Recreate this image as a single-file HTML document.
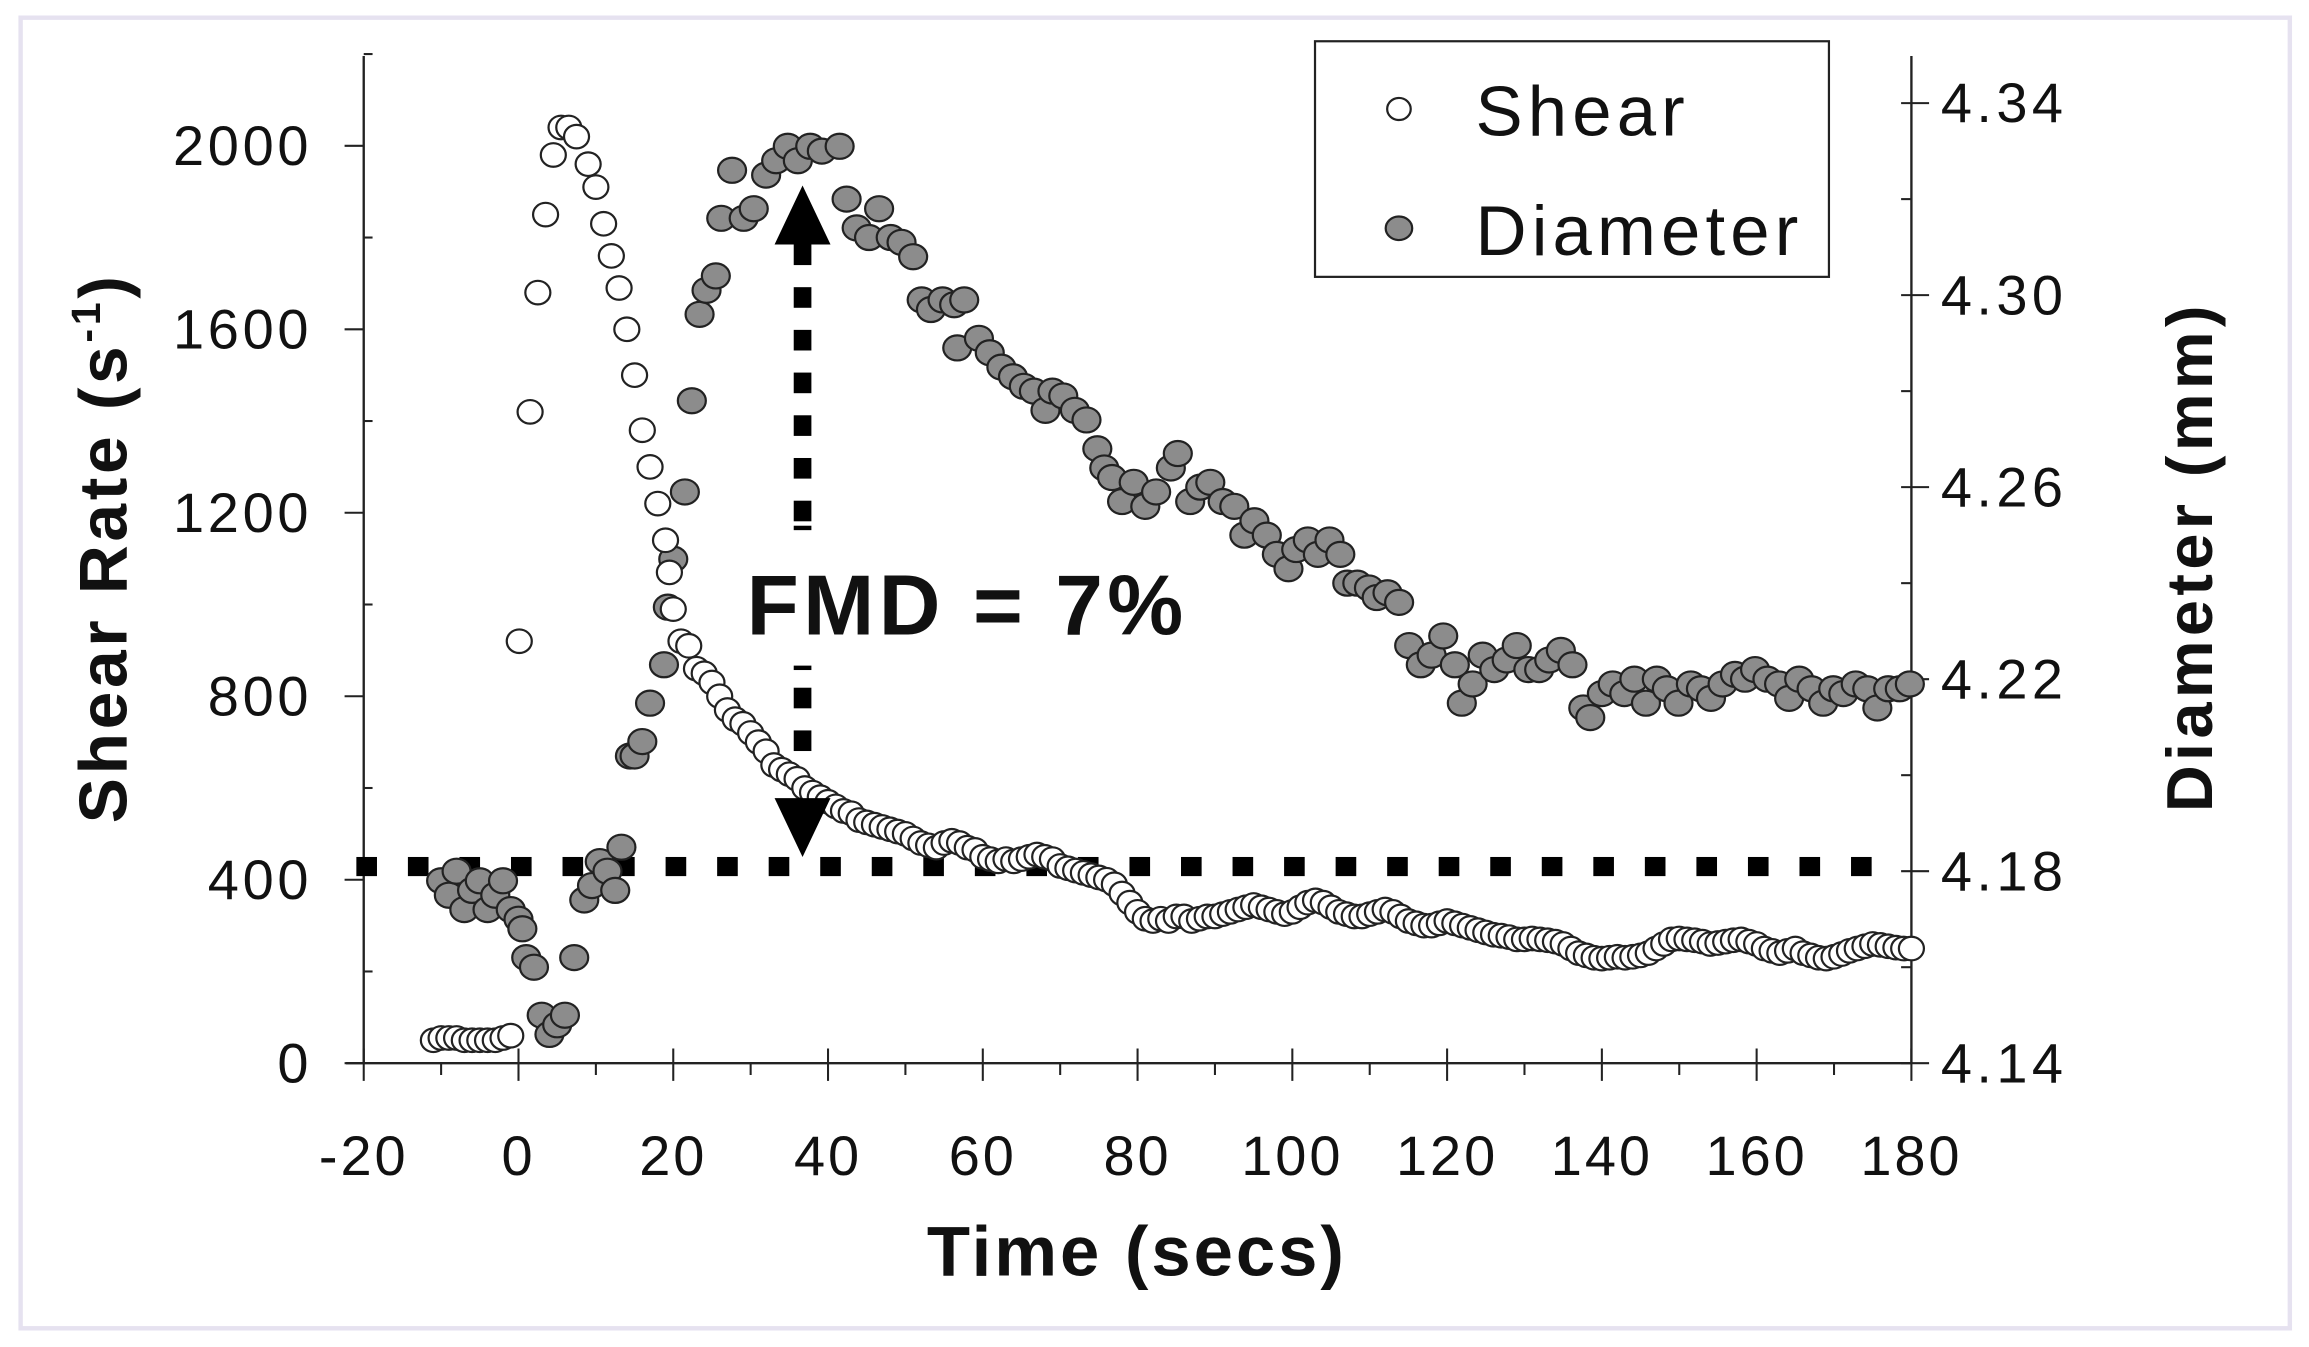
<!DOCTYPE html>
<html><head><meta charset="utf-8"><style>
html,body{margin:0;padding:0;background:#fff}
svg{display:block}
text{font-family:"Liberation Sans",Arial,sans-serif;fill:#111}
</style></head><body>
<svg id="chart" width="2309" height="1347" viewBox="0 0 1568 914.7" xmlns="http://www.w3.org/2000/svg">
<rect x="14" y="12" width="1541" height="890" fill="#fff" stroke="#e6e2f0" stroke-width="3"/>
<g id="axes"></g>
<g id="baseline"></g>
<g id="diam"></g>
<g id="shear"></g>
<g id="annot"></g>
<g>
<rect x="893" y="28" width="349" height="160" fill="#fff" stroke="#222" stroke-width="1.5"/>
<ellipse cx="950" cy="74" rx="8" ry="7.5" fill="#fff" stroke="#222" stroke-width="1.5"/>
<text x="1002" y="92" font-size="48" letter-spacing="3.5">Shear</text>
<ellipse cx="950" cy="155" rx="9" ry="8" fill="#8c8c8c" stroke="#222" stroke-width="1.5"/>
<text x="1002" y="173" font-size="48" letter-spacing="3.5">Diameter</text>
</g>
<text x="772" y="866" font-size="48" letter-spacing="2" font-weight="bold" text-anchor="middle">Time (secs)</text>
<text transform="translate(86,372) rotate(-90)" font-size="46" letter-spacing="2.5" font-weight="bold" text-anchor="middle">Shear Rate (s<tspan font-size="28" dy="-18">-1</tspan><tspan dy="18">)</tspan></text>
<text transform="translate(1502,378) rotate(-90)" font-size="44" letter-spacing="3" font-weight="bold" text-anchor="middle">Diameter (mm)</text>
</svg>
<script>
const xTicks = [-20,0,20,40,60,80,100,120,140,160,180];
const leftTicks = [0,400,800,1200,1600,2000];
const rightTicks = [4.14,4.18,4.22,4.26,4.30,4.34];
const shearT = [-11,-10,-9,-8,-7,-6,-5,-4,-3,-2,-1,0.1,1.5,2.5,3.5,4.5,5.5,6.5,7.5,9,10,11,12,13,14,15,16,17,18,19,19.5,
20,21,22,23,24,25,26,27,28,29,30,31,32,33,34,35,36,37,38,39,40,41,42,43,44,45,46,47,48,49,50,51,52,53,54,55,56,57,58,59,60,61,62,63,64,65,66,67,68,69,70,71,72,73,74,75,76,77,78,79,80,81,82,83,84,85,86,87,88,89,90,91,92,93,94,95,96,97,98,99,100,101,102,103,104,105,106,107,108,109,110,111,112,113,114,115,116,117,118,119,120,121,122,123,124,125,126,127,128,129,130,131,132,133,134,135,136,137,138,139,140,141,142,143,144,145,146,147,148,149,150,151,152,153,154,155,156,157,158,159,160,161,162,163,164,165,166,167,168,169,170,171,172,173,174,175,176,177,178,179,180];
const shearV = [50,55,55,55,50,50,50,50,50,55,60,920,1420,1680,1850,1980,2040,2040,2020,1960,1910,1830,1760,1690,1600,1500,1380,1300,1220,1140,1070,
990,920,910,860,850,830,800,770,750,740,720,700,680,650,640,630,620,600,590,580,570,560,550,545,530,525,520,515,510,505,500,490,480,475,470,480,485,480,470,465,450,445,440,445,440,445,450,455,450,445,430,425,420,415,410,405,400,390,370,350,330,315,310,315,310,320,320,310,315,320,320,325,330,335,340,345,340,335,330,325,330,340,350,355,350,340,330,325,320,320,325,330,335,330,320,310,305,300,300,305,310,305,300,295,290,285,280,278,275,270,270,272,270,268,265,260,250,240,235,230,228,230,232,230,232,235,240,250,260,270,272,270,268,265,260,262,265,268,270,265,260,250,245,240,245,250,240,235,230,228,232,238,245,250,255,260,258,255,252,250,250];
const diamT = [-10,-9,-8,-7,-6,-5,-4,-3,-2,-1,0,0.5,1,2,3,4,5,6,7.2,8.5,9.5,10.5,11.5,12.5,13.3,14.4,15,16,17,18.8,19.3,20,21.5,22.4,23.4,24.3,25.5,26.2,27.6,29.1,30.4,32,33.3,34.8,36.1,37.7,39.2,41.5,42.4,43.7,45.3,46.6,48.1,49.5,51,52.1,53.3,54.8,56.3,57.6,56.7,59.5,60.9,62.4,63.9,65.3,66.6,68.1,69,70.4,71.9,73.4,74.8,75.7,76.7,78,79.5,81,82.4,84.3,85.2,86.8,88.1,89.4,91,92.5,93.8,95.1,96.7,98,99.5,100.5,102,103.3,104.8,106.2,107.1,108.4,109.9,110.9,112.3,113.8,115.1,116.6,118,119.5,121,121.9,123.3,124.6,126.1,127.7,129,130.5,131.9,133.2,134.7,136.2,137.6,138.5,140,141.4,142.9,144.2,145.7,147.1,148.4,149.9,151.5,152.8,154.1,155.6,157.2,158.5,159.8,161.4,162.9,164.2,165.5,167.1,168.6,169.9,171.2,172.8,174.3,175.6,177,178.5,179.8];
const diamV = [4.178,4.175,4.180,4.172,4.176,4.178,4.172,4.175,4.178,4.172,4.170,4.168,4.162,4.160,4.150,4.146,4.148,4.150,4.162,4.174,4.177,4.182,4.180,4.176,4.185,4.204,4.204,4.207,4.215,4.223,4.235,4.245,4.259,4.278,4.296,4.301,4.304,4.316,4.326,4.316,4.318,4.325,4.328,4.331,4.328,4.331,4.330,4.331,4.320,4.314,4.312,4.318,4.312,4.311,4.308,4.299,4.297,4.299,4.298,4.299,4.289,4.291,4.288,4.285,4.283,4.281,4.280,4.276,4.280,4.279,4.276,4.274,4.268,4.264,4.262,4.257,4.261,4.256,4.259,4.264,4.267,4.257,4.260,4.261,4.257,4.256,4.250,4.253,4.250,4.246,4.243,4.247,4.249,4.246,4.249,4.246,4.240,4.240,4.239,4.237,4.238,4.236,4.227,4.223,4.225,4.229,4.223,4.215,4.219,4.225,4.222,4.224,4.227,4.222,4.222,4.224,4.226,4.223,4.214,4.212,4.217,4.219,4.217,4.220,4.215,4.220,4.218,4.215,4.219,4.218,4.216,4.219,4.221,4.220,4.222,4.220,4.219,4.216,4.220,4.218,4.215,4.218,4.217,4.219,4.218,4.214,4.218,4.218,4.219];
const baselineShear = 440;
const fmdLabel = "FMD = 7%";

const NS = "http://www.w3.org/2000/svg";
const X0=247, X1=1298, Y0=722;
const xs = t => X0 + (t+20)*(X1-X0)/200;
const yl = v => Y0 - v*(Y0-99)/2000;
const yr = v => Y0 - (v-4.14)*(Y0-70)/0.20;
function mk(tag, attrs, parent){const e=document.createElementNS(NS,tag);for(const k in attrs)e.setAttribute(k,attrs[k]);parent.appendChild(e);return e;}
const axes=document.getElementById('axes');
let e;
e=mk('line',{x1:X0,y1:38,x2:X0,y2:Y0,stroke:'#222','stroke-width':1.6},axes);


e=mk('line',{x1:X1,y1:38,x2:X1,y2:Y0,stroke:'#222','stroke-width':1.6},axes);


e=mk('line',{x1:X0-12,y1:Y0,x2:X1,y2:Y0,stroke:'#222','stroke-width':1.6},axes);


for(let v=0;v<=2200;v+=200){const y=yl(v);const major=v%400===0;
 e=mk('line',{x1:major?X0-13:X0,y1:y,x2:major?X0:X0+6,y2:y,stroke:'#222','stroke-width':1.4},axes);
 
 }
leftTicks.forEach(v=>{e=mk('text',{x:212,y:yl(v)+13,'font-size':38,'letter-spacing':2.5,'text-anchor':'end'},axes);e.textContent=v;
 
 });
for(let i=0;i<=10;i++){const v=4.14+i*0.02;const y=yr(v);const major=i%2===0;
 e=mk('line',{x1:X1-7,y1:y,x2:major?X1+12:X1,y2:y,stroke:'#222','stroke-width':1.4},axes);
 
 }
rightTicks.forEach(v=>{e=mk('text',{x:1318,y:yr(v)+13,'font-size':38,'letter-spacing':3},axes);e.textContent=v.toFixed(2);
 
 });
for(let t=-20;t<=180;t+=10){const x=xs(t);const major=t%20===0;
 e=mk('line',{x1:x,y1:Y0-(major?10:0),x2:x,y2:Y0+(major?12:8),stroke:'#222','stroke-width':1.4},axes);
 
 }
xTicks.forEach(t=>{e=mk('text',{x:xs(t),y:798,'font-size':38,'letter-spacing':2,'text-anchor':'middle'},axes);e.textContent=t;
 
 });
const bl=document.getElementById('baseline');
const by=yl(baselineShear)+4;
for(let x=242;x<=1290;x+=35){e=mk('rect',{x:x,y:by-7,width:14,height:13,fill:'#000'},bl);
 
 }
const dg=document.getElementById('diam');
diamT.forEach((t,i)=>{e=mk('ellipse',{cx:xs(t),cy:yr(diamV[i]),rx:9.5,ry:8.5,fill:'#8c8c8c',stroke:'#222','stroke-width':1.5},dg);
 
 });
const sg=document.getElementById('shear');
shearT.forEach((t,i)=>{if(shearV[i]===undefined)return;e=mk('ellipse',{cx:xs(t),cy:yl(shearV[i]),rx:8.5,ry:8,fill:'#fff',stroke:'#222','stroke-width':1.5},sg);
 
 });
const an=document.getElementById('annot');
const ax=545;
e=mk('polygon',{points:`${ax},126 ${ax-19},166 ${ax+19},166`,fill:'#000'},an);


for(let y=166;y<=340;y+=29){e=mk('rect',{x:ax-6,y:y,width:12,height:14,fill:'#000'},an);
 
 }
mk('rect',{x:ax-6,y:357,width:12,height:3,fill:'#000'},an);
mk('rect',{x:ax-6,y:452,width:12,height:3,fill:'#000'},an);
for(let y=467;y<=520;y+=29){e=mk('rect',{x:ax-6,y:y,width:12,height:14,fill:'#000'},an);
 
 }
e=mk('polygon',{points:`${ax},582 ${ax-19},542 ${ax+19},542`,fill:'#000'},an);


e=mk('text',{x:507,y:431,'font-size':58,'letter-spacing':3,'font-weight':'bold'},an);
e.textContent=fmdLabel;


</script>
</body></html>
